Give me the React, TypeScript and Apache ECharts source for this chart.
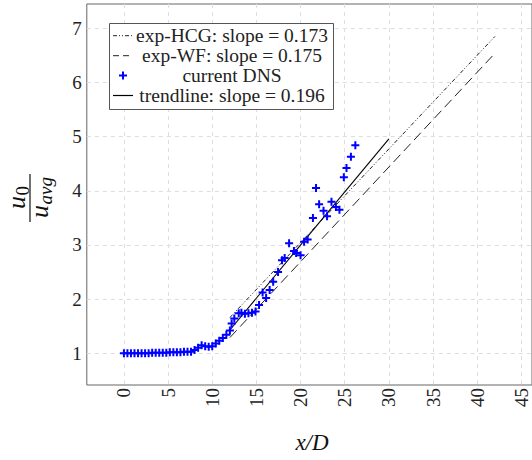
import React, { useEffect, useRef } from "react";
import * as echarts from "echarts";

// ---- data ----
const dnsX = [
  0, 0.4, 0.8, 1.2, 1.6, 2.0, 2.4, 2.8, 3.2, 3.6, 4.0, 4.4, 4.8, 5.2, 5.6, 6.0, 6.4, 6.8, 7.2, 7.6,
  8.0, 8.4, 8.8, 9.2, 9.6, 10.0, 10.4, 10.8, 11.2, 11.6, 12.0, 12.2, 12.5, 13.0, 13.3, 13.7, 14.1,
  14.5, 14.9, 15.3, 15.7, 16.1, 16.5, 16.9, 17.45, 17.9, 18.2, 18.7, 19.25, 19.5, 20.0, 20.4, 20.8,
  21.4, 21.75, 22.1, 22.6, 23.0, 23.5, 24.0, 24.4, 24.9, 25.2, 25.7, 26.2,
];
const dnsY = [
  1.0, 1.0, 1.0, 1.0, 1.0, 1.0, 1.0, 1.0, 1.01, 1.01, 1.01, 1.01, 1.01, 1.02, 1.02, 1.02, 1.02, 1.03, 1.03, 1.03,
  1.06, 1.1, 1.15, 1.13, 1.12, 1.13, 1.18, 1.23, 1.28, 1.34, 1.42, 1.55, 1.64, 1.74, 1.75, 1.73, 1.74,
  1.75, 1.77, 1.89, 2.12, 2.02, 2.17, 2.32, 2.5, 2.72, 2.76, 3.03, 2.89, 2.85, 2.81, 3.06, 3.1,
  3.5, 4.05, 3.75, 3.63, 3.53, 3.8, 3.7, 3.65, 4.25, 4.42, 4.63, 4.84,
];
const trendX = [12, 30];
const trendY = [1.43, 4.96];
const hcgX = [12, 42];
const hcgY = [1.66, 6.85];
const wfX = [12, 42];
const wfY = [1.29, 6.54];

const legendLabels = [
  "exp-HCG: slope = 0.173",
  "exp-WF: slope = 0.175",
  "current DNS",
  "trendline: slope = 0.196",
];

const X_MIN = -4.2;
const X_MAX = 46.2;
const Y_MIN = 0.414;
const Y_MAX = 7.45;

const FONT = "'Liberation Serif', 'DejaVu Serif', serif";
const PLUS = "path://M-1,-4L1,-4L1,-1L4,-1L4,1L1,1L1,4L-1,4L-1,1L-4,1L-4,-1L-1,-1Z";
const HCG_DASH = [4, 2, 1, 2, 1, 2];
const WF_DASH = [10, 5];

const zip = (xs: number[], ys: number[]) => xs.map((x, i) => [x, ys[i]]);
const intLabel = (v: number) =>
  Math.abs(v - Math.round(v)) < 1e-6 ? String(Math.round(v)) : "";

export default function App() {
  const ref = useRef<HTMLDivElement>(null);
  useEffect(() => {
    const chart = echarts.init(ref.current!, null, { renderer: "svg" });
    const rowY = [35.7, 55.7, 75.5, 95.5];
    const lx0 = 113;
    const lx1 = 133;
    const textX = 232;
    const legend: any[] = [
      {
        type: "rect",
        shape: { x: 109.5, y: 23.5, width: 224, height: 86 },
        style: { fill: "#fff", stroke: "#555", lineWidth: 1 },
        z: 50,
      },
      {
        type: "line",
        shape: { x1: lx0, y1: rowY[0], x2: lx1, y2: rowY[0] },
        style: { stroke: "#222", lineWidth: 1, lineDash: HCG_DASH },
        z: 51,
      },
      {
        type: "line",
        shape: { x1: lx0, y1: rowY[1], x2: lx1, y2: rowY[1] },
        style: { stroke: "#222", lineWidth: 1, lineDash: [6, 4] },
        z: 51,
      },
      {
        type: "polygon",
        shape: {
          points: [
            [-1, -4], [1, -4], [1, -1], [4, -1], [4, 1], [1, 1], [1, 4], [-1, 4], [-1, 1], [-4, 1], [-4, -1], [-1, -1],
          ].map(([a, b]) => [123 + a, rowY[2] + b]),
        },
        style: { fill: "#0000ff" },
        z: 51,
      },
      {
        type: "line",
        shape: { x1: lx0, y1: rowY[3], x2: lx1, y2: rowY[3] },
        style: { stroke: "#000", lineWidth: 1.2 },
        z: 51,
      },
      ...legendLabels.map((t, i) => ({
        type: "text",
        x: textX,
        y: rowY[i],
        z: 51,
        style: {
          text: t,
          fontFamily: FONT,
          fontSize: 19.5,
          fill: "#222",
          align: "center",
          verticalAlign: "middle",
        },
      })),
    ];

    const R = Math.PI / 2;
    const yName: any[] = [
      {
        type: "line",
        shape: { x1: 30, y1: 222, x2: 30, y2: 174 },
        style: { stroke: "#111", lineWidth: 1.2 },
      },
      {
        type: "text",
        x: 16,
        y: 209,
        rotation: R,
        style: { text: "u", fontFamily: FONT, fontStyle: "italic", fontSize: 26, fill: "#111", align: "left", verticalAlign: "middle" },
      },
      {
        type: "text",
        x: 22,
        y: 195.5,
        rotation: R,
        style: { text: "0", fontFamily: FONT, fontSize: 19, fill: "#111", align: "left", verticalAlign: "middle" },
      },
      {
        type: "text",
        x: 39,
        y: 218,
        rotation: R,
        style: { text: "u", fontFamily: FONT, fontStyle: "italic", fontSize: 26, fill: "#111", align: "left", verticalAlign: "middle" },
      },
      {
        type: "text",
        x: 45,
        y: 204.5,
        rotation: R,
        style: { text: "avg", fontFamily: FONT, fontStyle: "italic", fontSize: 19, fill: "#111", align: "left", verticalAlign: "middle" },
      },
    ];

    const xName = {
      type: "text",
      x: 312,
      y: 442,
      style: {
        text: "x/D",
        fontFamily: FONT,
        fontStyle: "italic",
        fontSize: 23,
        fill: "#111",
        align: "center",
        verticalAlign: "middle",
      },
    };

    chart.setOption({
      animation: false,
      backgroundColor: "#fff",
      grid: {
        left: 86.8,
        top: 4,
        width: 449.6,
        height: 381,
        show: true,
        borderColor: "#666",
        borderWidth: 1,
        backgroundColor: "transparent",
      },
      xAxis: {
        type: "value",
        min: X_MIN,
        max: X_MAX,
        splitNumber: 10,
        axisLine: { show: false, onZero: false },
        axisTick: { show: false },
        axisLabel: {
          rotate: 90,
          margin: 3,
          fontSize: 19,
          fontFamily: FONT,
          color: "#222",
          showMinLabel: false,
          showMaxLabel: false,
          formatter: intLabel,
        },
        splitLine: {
          show: true,
          showMinLine: false,
          showMaxLine: false,
          lineStyle: { color: "#dedede", type: [4, 4], width: 1 },
        },
      },
      yAxis: {
        type: "value",
        min: Y_MIN,
        max: Y_MAX,
        splitNumber: 7,
        axisLine: { show: false, onZero: false },
        axisTick: { show: false },
        axisLabel: {
          margin: 5,
          fontSize: 19,
          fontFamily: FONT,
          color: "#222",
          showMinLabel: false,
          showMaxLabel: false,
          formatter: intLabel,
        },
        splitLine: {
          show: true,
          showMinLine: false,
          showMaxLine: false,
          lineStyle: { color: "#dedede", type: [4, 4], width: 1 },
        },
      },
      series: [
        {
          name: legendLabels[0],
          type: "line",
          data: zip(hcgX, hcgY),
          symbol: "none",
          lineStyle: { color: "#222", width: 1, type: HCG_DASH },
          z: 3,
        },
        {
          name: legendLabels[1],
          type: "line",
          data: zip(wfX, wfY),
          symbol: "none",
          lineStyle: { color: "#222", width: 1, type: WF_DASH },
          z: 3,
        },
        {
          name: legendLabels[3],
          type: "line",
          data: zip(trendX, trendY),
          symbol: "none",
          lineStyle: { color: "#000", width: 1.1, type: "solid" },
          z: 3,
        },
        {
          name: legendLabels[2],
          type: "scatter",
          data: zip(dnsX, dnsY),
          symbol: PLUS,
          symbolSize: 8,
          itemStyle: { color: "#0000ff", opacity: 1 },
          z: 4,
        },
      ],
      graphic: [...legend, ...yName, xName],
    });
    return () => chart.dispose();
  }, []);
  return (
    <div
      ref={ref}
      style={{ position: "absolute", left: 0, top: 0, width: 532, height: 460 }}
    />
  );
}
